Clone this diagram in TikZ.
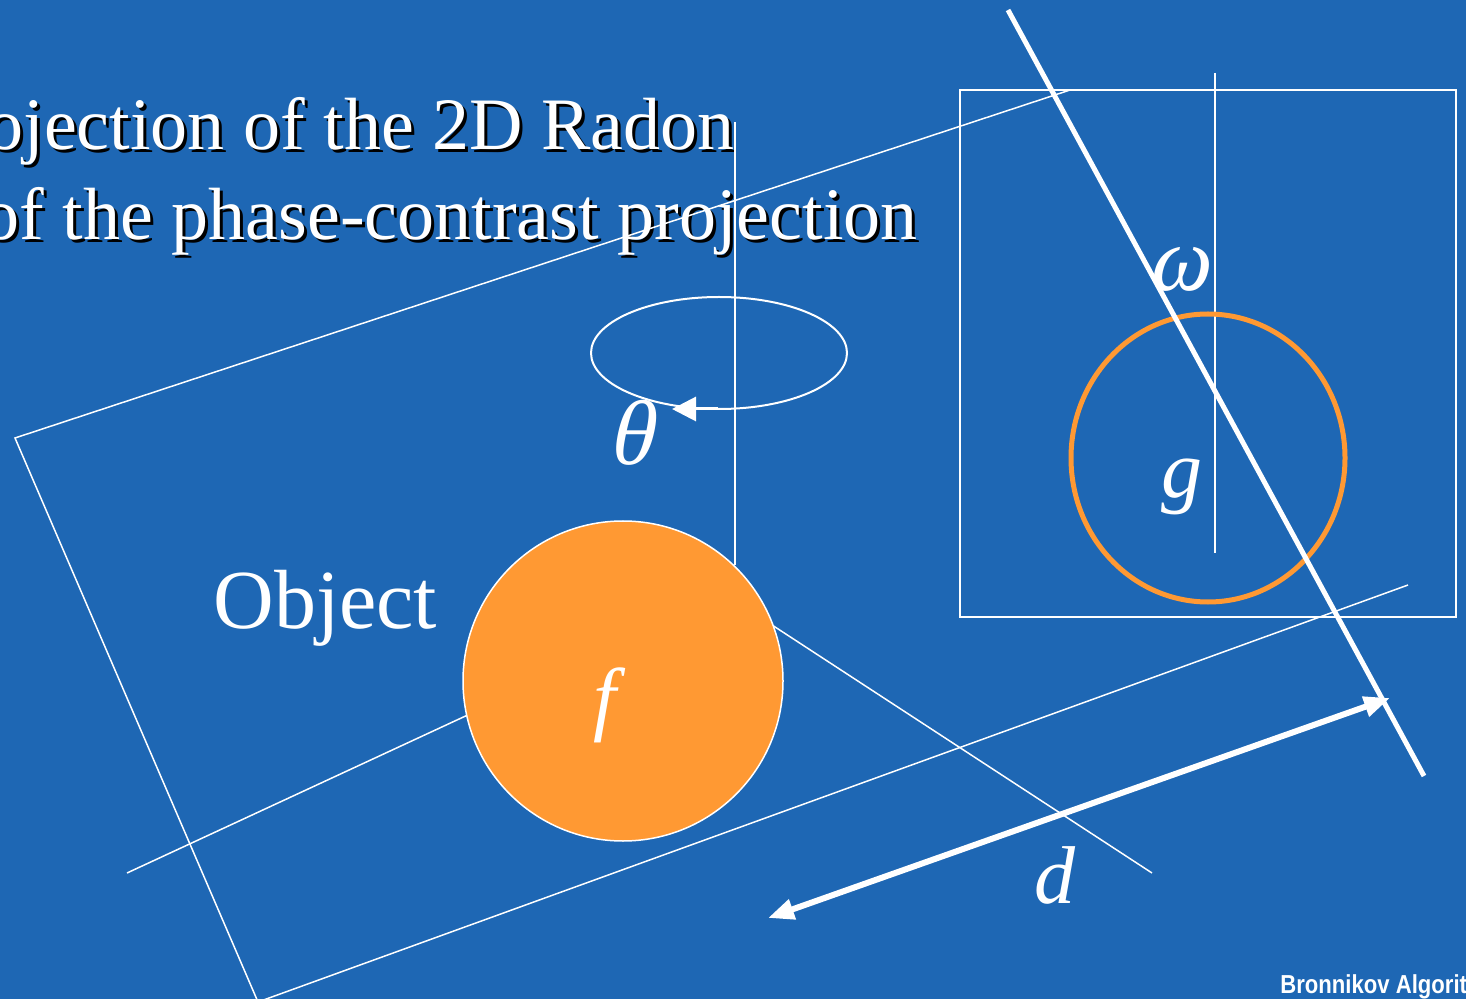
\documentclass[tikz,border=0pt]{standalone}
\usepackage{fontspec}
\setmainfont{Liberation Serif}
\newfontfamily\footfont{Liberation Sans}
\newfontfamily\greekfont{Liberation Serif}[FakeSlant=0.22]
\usetikzlibrary{shapes.geometric, arrows.meta}

\definecolor{slideblue}{RGB}{30,103,180}
\definecolor{slideorange}{RGB}{255,153,51}

\begin{document}
\begin{tikzpicture}[
  x=0.5pt, y=-0.5pt,
  edge/.style={draw=white, line width=0.75pt},
  beam/.style={draw=white, line width=2.5pt},
  spin/.style={-{Triangle[length=12pt, width=12pt]}, draw=white, line width=1.5pt},
  span/.style={{Triangle[length=13pt, width=10pt]}-{Triangle[length=13pt, width=10pt]}, draw=white, line width=3pt},
  headline/.style={anchor=base east, inner sep=0pt, font=\fontsize{37}{44}\selectfont},
  symbol/.style={anchor=base, inner sep=0pt, text=white, font=\fontsize{41}{41}\selectfont\itshape},
  greek/.style={anchor=base, inner sep=0pt, text=white, font=\greekfont\fontsize{46}{46}\selectfont},
  object/.style={circle, draw=white, line width=0.75pt, fill=slideorange, minimum size=160pt, inner sep=0pt},
  ring/.style={ellipse, draw=slideorange, line width=2.5pt, minimum width=137pt, minimum height=144pt, inner sep=0pt},
  orbit/.style={ellipse, draw=white, line width=1pt, minimum width=128pt, minimum height=56pt, inner sep=0pt}
]
\useasboundingbox (0,0) rectangle (1466,999);
\fill[slideblue] (0,0) rectangle (1466,999);
\clip (0,0) rectangle (1466,999);

% title, with its shadow
\node[headline, text=black] (title1shadow) at (738,153) {ojection of the 2D Radon};
\node[headline, text=white] (title1) at (735,150) {ojection of the 2D Radon};
\node[headline, text=black] (title2shadow) at (921,243) {of the phase-contrast projection};
\node[headline, text=white] (title2) at (918,240) {of the phase-contrast projection};

% detector plane
\coordinate (planeTL) at (15,438);
\coordinate (planeTR) at (1070,90);
\coordinate (planeBL) at (258,1002);
\coordinate (planeBR) at (1408,585);
\draw[edge] (planeTR) -- (planeTL) -- (planeBL) -- (planeBR);

% fourier frame
\coordinate (frameNW) at (960,90);
\coordinate (frameSE) at (1456,617);
\draw[edge] (frameNW) rectangle (frameSE);

% axes
\coordinate (axisTop) at (735,122);
\coordinate (axisBot) at (735,565);
\coordinate (faxisTop) at (1215,73);
\coordinate (faxisBot) at (1215,553);
\draw[edge] (axisTop) -- (axisBot);
\draw[edge] (faxisTop) -- (faxisBot);

% rays through the object
\coordinate (rayA1) at (127,873);
\coordinate (rayA2) at (623,643);
\coordinate (rayB1) at (700,578);
\coordinate (rayB2) at (1152,873);
\draw[edge] (rayA1) -- (rayA2);
\draw[edge] (rayB1) -- (rayB2);

% rotation
\node[orbit] (orbit) at (719,353) {};
\coordinate (spinStart) at (718,409);
\coordinate (spinEnd) at (672,409);
\draw[spin] (spinStart) -- (spinEnd);
\node[greek] (theta) at (630,465) {θ};

% object
\node[object] (obj) at (623,681) {};
\node[symbol] (flabel) at (605,725) {f};
\node[anchor=base west, inner sep=0pt, text=white, font=\fontsize{42}{42}\selectfont] (objlabel) at (213,628) {Object};

% slice in fourier space
\node[ring] (gring) at (1208,458) {};
\coordinate (sliceTop) at (1008,10);
\coordinate (sliceBot) at (1424,776);
\draw[beam] (sliceTop) -- (sliceBot);
\node[greek] (omega) at (1178,291) {ω};
\node[symbol] (glabel) at (1182,498) {g};

% distance
\coordinate (dLeft) at (768,918);
\coordinate (dRight) at (1390,698);
\draw[span] (dLeft) -- (dRight);
\node[symbol] (dlabel) at (1055,903) {d};

\node[anchor=base west, inner sep=0pt, text=white, font=\footfont\bfseries\fontsize{13}{13}\selectfont] (footer) at (1280,993) {\scalebox{0.85}[1]{Bronnikov Algorit}};
\end{tikzpicture}
\end{document}
